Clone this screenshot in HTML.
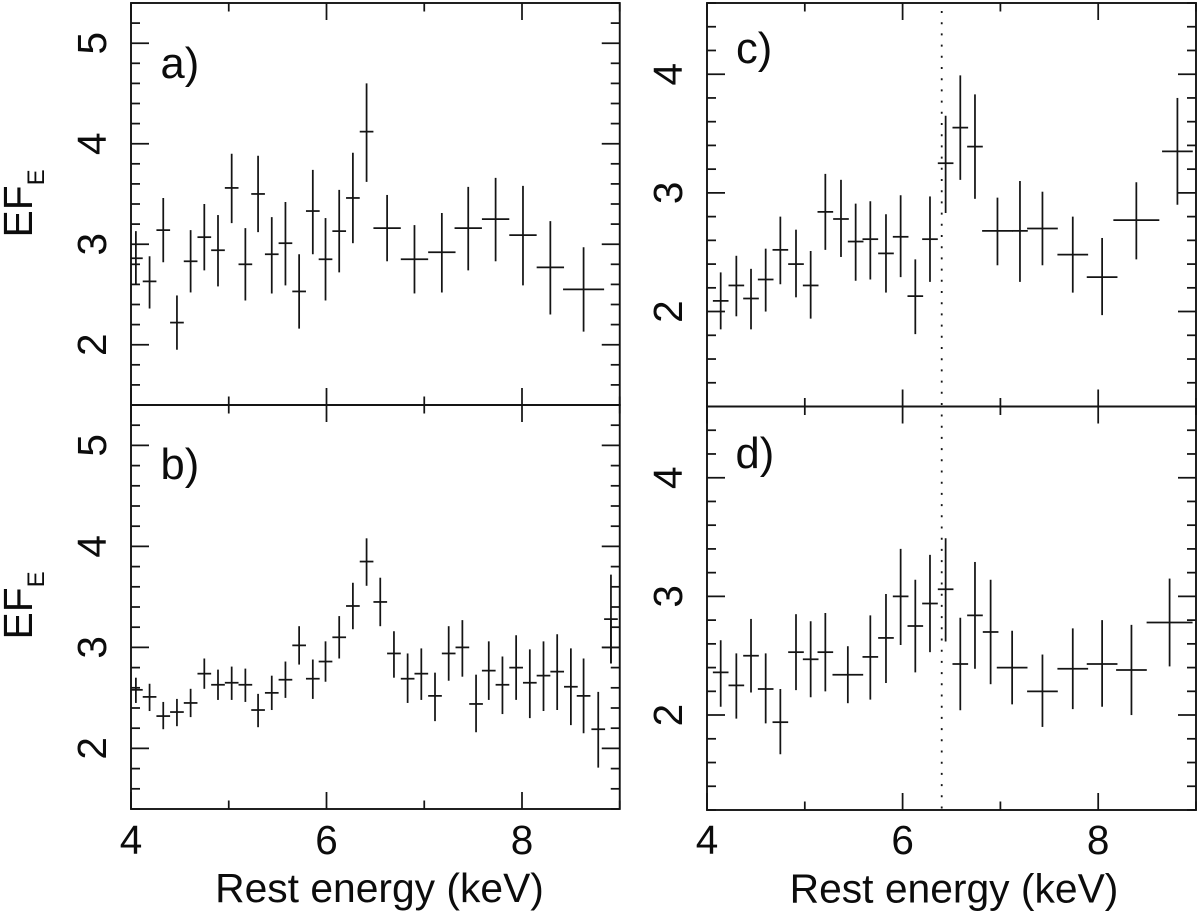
<!DOCTYPE html>
<html lang="en">
<head>
<meta charset="utf-8">
<title>EF_E spectra</title>
<style>
html,body{margin:0;padding:0;background:#fff;width:1200px;height:912px;overflow:hidden}
svg{display:block}
text{font-family:"Liberation Sans",Arial,sans-serif;fill:#0c0c0c}
.tick{font-size:40.5px}
.title{font-size:40.8px}
.panel-label{font-size:43.5px}
</style>
</head>
<body>
<svg id="chart" width="1200" height="912" viewBox="0 0 1200 912" xmlns="http://www.w3.org/2000/svg">
  <text class="panel-label" x="160.5" y="78">a)</text>
  <text class="panel-label" x="160.5" y="479">b)</text>
  <text class="panel-label" x="736" y="63">c)</text>
  <text class="panel-label" x="735.5" y="468">d)</text>
  <text class="title" transform="translate(32,237.5) rotate(-90)">EF<tspan font-size="24" dy="12">E</tspan></text>
  <text class="title" transform="translate(32,639.5) rotate(-90)">EF<tspan font-size="24" dy="12">E</tspan></text>
  <text class="title" x="379.5" y="902" text-anchor="middle">Rest energy (keV)</text>
  <text class="title" x="954" y="902.5" text-anchor="middle">Rest energy (keV)</text>
</svg>
<script>
// Panel a
const aEnergy = [4.05,4.19,4.33,4.47,4.61,4.75,4.89,5.03,5.17,5.30,5.44,5.58,5.72,5.86,5.99,6.13,6.27,6.41,6.62,6.90,7.18,7.45,7.73,8.01,8.29,8.63];
const aHalfWidth = [.07,.07,.07,.07,.07,.07,.07,.07,.07,.07,.07,.07,.07,.07,.07,.07,.07,.07,.14,.14,.14,.14,.14,.14,.14,.21];
const aFlux = [2.86,2.63,3.14,2.22,2.83,3.07,2.94,3.56,2.80,3.50,2.90,3.01,2.53,3.33,2.85,3.13,3.46,4.12,3.16,2.85,2.92,3.16,3.25,3.09,2.77,2.55];
const aHigh = [3.13,2.88,3.46,2.49,3.14,3.40,3.29,3.90,3.16,3.88,3.27,3.42,2.90,3.74,3.26,3.54,3.91,4.60,3.49,3.19,3.31,3.57,3.66,3.58,3.23,2.97];
const aLow = [2.60,2.36,2.82,1.95,2.52,2.74,2.58,3.21,2.44,3.12,2.51,2.59,2.16,2.90,2.44,2.72,3.01,3.62,2.83,2.51,2.52,2.74,2.83,2.59,2.30,2.13];
// Panel b
const bEnergy = [4.05,4.19,4.33,4.47,4.61,4.75,4.89,5.03,5.17,5.30,5.44,5.58,5.72,5.86,5.99,6.13,6.27,6.41,6.55,6.69,6.83,6.97,7.11,7.25,7.39,7.53,7.66,7.80,7.94,8.08,8.22,8.36,8.50,8.63,8.78,8.91,8.91];
const bHalfWidth = [.07,.07,.07,.07,.07,.07,.07,.07,.07,.07,.07,.07,.07,.07,.07,.07,.07,.07,.07,.07,.07,.07,.07,.07,.07,.07,.07,.07,.07,.07,.07,.07,.07,.07,.07,.07,.09];
const bFlux = [2.58,2.51,2.32,2.36,2.45,2.74,2.63,2.65,2.63,2.38,2.55,2.68,3.02,2.69,2.86,3.10,3.41,3.85,3.45,2.94,2.69,2.74,2.52,2.94,3.00,2.44,2.77,2.63,2.80,2.65,2.72,2.76,2.61,2.52,2.19,3.28,3.00];
const bHigh = [2.70,2.64,2.46,2.49,2.59,2.89,2.78,2.81,2.79,2.54,2.72,2.86,3.21,2.88,3.06,3.31,3.64,4.08,3.69,3.16,2.94,2.99,2.75,3.21,3.27,2.73,3.06,2.91,3.12,2.98,3.06,3.13,2.99,2.89,2.56,3.72,3.29];
const bLow = [2.45,2.37,2.19,2.22,2.31,2.59,2.48,2.48,2.46,2.21,2.38,2.50,2.83,2.49,2.66,2.89,3.18,3.61,3.21,2.70,2.45,2.48,2.27,2.67,2.71,2.16,2.48,2.34,2.48,2.30,2.37,2.38,2.23,2.15,1.81,2.84,2.84];
// Panel c
const cEnergy = [4.14,4.30,4.45,4.60,4.75,4.91,5.06,5.21,5.37,5.52,5.67,5.83,5.98,6.13,6.28,6.44,6.59,6.74,6.97,7.20,7.43,7.74,8.04,8.39,8.81];
const cHalfWidth = [.08,.08,.08,.08,.08,.08,.08,.08,.08,.08,.08,.08,.08,.08,.08,.08,.08,.08,.157,.08,.157,.157,.157,.235,.157];
const cFlux = [2.09,2.22,2.11,2.27,2.52,2.40,2.22,2.84,2.78,2.59,2.61,2.49,2.63,2.13,2.61,3.25,3.55,3.39,2.68,2.68,2.70,2.48,2.29,2.77,3.35];
const cHigh = [2.33,2.47,2.36,2.53,2.80,2.69,2.51,3.16,3.11,2.91,2.93,2.82,2.98,2.44,2.97,3.65,3.99,3.83,2.96,3.10,3.01,2.80,2.62,3.09,3.80];
const cLow = [1.85,1.96,1.85,2.00,2.23,2.12,1.94,2.52,2.46,2.26,2.27,2.16,2.29,1.81,2.25,2.83,3.11,2.95,2.39,2.25,2.39,2.16,1.97,2.44,2.90];
// Panel d
const dEnergy = [4.14,4.30,4.45,4.60,4.75,4.91,5.06,5.21,5.44,5.67,5.83,5.98,6.13,6.28,6.44,6.59,6.74,6.90,7.12,7.43,7.74,8.04,8.34,8.73];
const dHalfWidth = [.08,.08,.08,.08,.08,.08,.08,.08,.157,.08,.08,.08,.08,.08,.08,.08,.08,.08,.157,.157,.157,.157,.157,.235];
const dFlux = [2.36,2.25,2.50,2.22,1.94,2.53,2.47,2.53,2.34,2.49,2.65,3.00,2.75,2.94,3.06,2.43,2.84,2.70,2.40,2.20,2.39,2.43,2.38,2.78];
const dHigh = [2.63,2.52,2.81,2.52,2.22,2.85,2.79,2.86,2.58,2.84,3.02,3.40,3.14,3.35,3.49,2.82,3.29,3.14,2.71,2.51,2.73,2.80,2.76,3.15];
const dLow = [2.07,1.97,2.19,1.93,1.67,2.21,2.15,2.20,2.10,2.13,2.27,2.59,2.36,2.53,2.62,2.04,2.39,2.26,2.09,1.90,2.05,2.07,2.00,2.41];
// Axis ticks
const xTickValues = [4,5,6,7,8,9];
const xTickLabels = ["4","","6","","8",""];
const abTickLabels = ["2","3","4","5"];
const cdTickLabels = ["2","3","4"];
const lineEnergy = 6.4;

const NS = "http://www.w3.org/2000/svg";
const svg = document.getElementById("chart");
const INK = "#141414";
const MARK_WIDTH = 1.75;

function makeLine(parent, x1, y1, x2, y2, w) {
  const l = document.createElementNS(NS, "line");
  l.setAttribute("x1", x1);
  l.setAttribute("y1", y1);
  l.setAttribute("x2", x2);
  l.setAttribute("y2", y2);
  l.setAttribute("stroke", INK);
  l.setAttribute("stroke-width", w);
  parent.appendChild(l);
  return l;
}
function makeText(parent, x, y, str, cls) {
  const t = document.createElementNS(NS, "text");
  t.setAttribute("class", cls);
  t.setAttribute("x", x);
  t.setAttribute("y", y);
  t.setAttribute("text-anchor", "middle");
  t.textContent = str;
  parent.appendChild(t);
  return t;
}

function drawPanel(cfg) {
  const xScale = v => cfg.left + (v - 4) / 5 * (cfg.right - cfg.left);
  const yScale = v => cfg.bottom - (v - cfg.yMin) / (cfg.yMax - cfg.yMin) * (cfg.bottom - cfg.top);

  const g = document.createElementNS(NS, "g");
  
  
  svg.appendChild(g);

  const clip = document.createElementNS(NS, "clipPath");
  clip.setAttribute("id", "clip-" + cfg.id);
  const cr = document.createElementNS(NS, "rect");
  cr.setAttribute("x", cfg.left);
  cr.setAttribute("y", cfg.top);
  cr.setAttribute("width", cfg.right - cfg.left);
  cr.setAttribute("height", cfg.bottom - cfg.top);
  clip.appendChild(cr);
  g.appendChild(clip);

  const frame = document.createElementNS(NS, "rect");
  frame.setAttribute("x", cfg.left);
  frame.setAttribute("y", cfg.top);
  frame.setAttribute("width", cfg.right - cfg.left);
  frame.setAttribute("height", cfg.bottom - cfg.top);
  frame.setAttribute("fill", "none");
  frame.setAttribute("stroke", INK);
  frame.setAttribute("stroke-width", 1.9);
  
  
  g.appendChild(frame);

  // x ticks
  xTickValues.forEach((v, i) => {
    const px = xScale(v);
    const len = v % 2 === 0 ? 17 : 8.5;
    const top = makeLine(g, px, cfg.top, px, cfg.top + len, MARK_WIDTH);
    
    
    const bot = makeLine(g, px, cfg.bottom, px, cfg.bottom - len, MARK_WIDTH);
    
    
    if (cfg.showX && xTickLabels[i]) {
      const t = makeText(svg, px, 854, xTickLabels[i], "tick");
      
      
    }
  });

  // y ticks
  for (let k = Math.ceil(cfg.yMin * 5 - 1e-6); k <= Math.floor(cfg.yMax * 5 + 1e-6); k++) {
    const v = k / 5;
    const py = yScale(v);
    const len = k % 5 === 0 ? 18 : 9;
    const l = makeLine(g, cfg.left, py, cfg.left + len, py, MARK_WIDTH);
    
    
    const r = makeLine(g, cfg.right, py, cfg.right - len, py, MARK_WIDTH);
    
    
  }
  cfg.yLabels.forEach(lbl => {
    const py = yScale(Number(lbl));
    const t = makeText(svg, 0, 0, lbl, "tick");
    t.setAttribute("transform", "translate(" + (cfg.left - 25) + "," + py + ") rotate(-90)");
    
    
  });

  // reference line
  if (cfg.showLine) {
    const d = makeLine(g, xScale(lineEnergy), cfg.top + 8, xScale(lineEnergy), cfg.bottom, 1.8);
    d.setAttribute("stroke-dasharray", "2 9.2");
    
    
  }

  // data points
  const marks = document.createElementNS(NS, "g");
  marks.setAttribute("clip-path", "url(#clip-" + cfg.id + ")");
  
  
  g.appendChild(marks);
  cfg.energy.forEach((e, i) => {
    const px = xScale(e);
    const v = makeLine(marks, px, yScale(cfg.high[i]), px, yScale(cfg.low[i]), MARK_WIDTH);
    
    
    const h = makeLine(marks, xScale(e - cfg.hw[i]), yScale(cfg.flux[i]), xScale(e + cfg.hw[i]), yScale(cfg.flux[i]), MARK_WIDTH);
    
    
  });
}

drawPanel({id:"a", left:131, right:619.75, top:3, bottom:405, yMin:1.4, yMax:5.4, showX:false, showLine:false, yLabels:abTickLabels, energy:aEnergy, hw:aHalfWidth, flux:aFlux, high:aHigh, low:aLow});
drawPanel({id:"b", left:131, right:619.75, top:405, bottom:809, yMin:1.4, yMax:5.4, showX:true, showLine:false, yLabels:abTickLabels, energy:bEnergy, hw:bHalfWidth, flux:bFlux, high:bHigh, low:bLow});
drawPanel({id:"c", left:707, right:1196, top:3, bottom:406.5, yMin:1.2, yMax:4.6, showX:false, showLine:true, yLabels:cdTickLabels, energy:cEnergy, hw:cHalfWidth, flux:cFlux, high:cHigh, low:cLow});
drawPanel({id:"d", left:707, right:1196, top:406.5, bottom:810, yMin:1.2, yMax:4.6, showX:true, showLine:true, yLabels:cdTickLabels, energy:dEnergy, hw:dHalfWidth, flux:dFlux, high:dHigh, low:dLow});
</script>
</body>
</html>
